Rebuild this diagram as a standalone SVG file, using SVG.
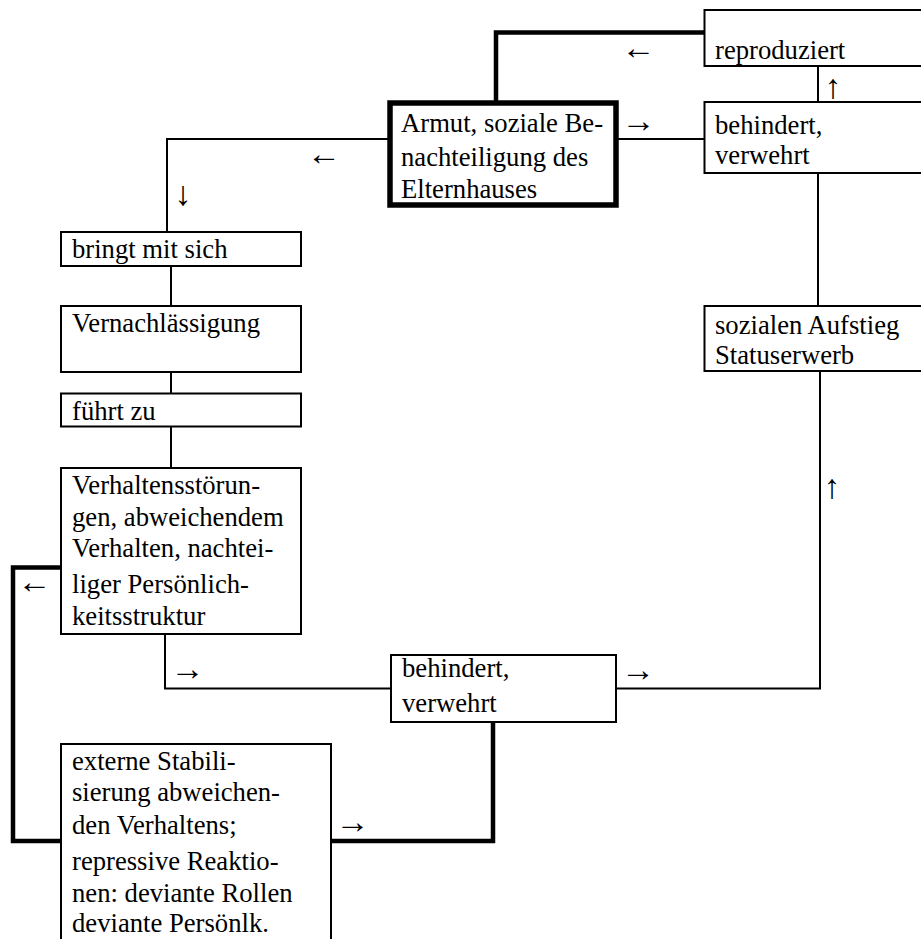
<svg xmlns="http://www.w3.org/2000/svg" width="921" height="939" viewBox="0 0 921 939">
<style>
.b{fill:#fff;stroke:#000;stroke-width:2}
.bt{fill:#fff;stroke:#000;stroke-width:5.5}
.c{fill:none;stroke:#000;stroke-width:2}
.ct{fill:none;stroke:#000;stroke-width:4.5}
text{font-family:"Liberation Serif","Times New Roman",serif;font-size:26.67px;fill:#000}
.a{text-anchor:middle;font-size:34px}
</style>
<rect width="921" height="939" fill="#fff"/>
<g id="connectors">
<path class="ct" d="M496,103 V32.5 H704.5"/>
<path class="c" d="M616,139 H704.5"/>
<path class="c" d="M390,139 H167 V232"/>
<path class="c" d="M818,66 V102"/>
<path class="c" d="M818,173 V306"/>
<path class="c" d="M171,266 V306"/>
<path class="c" d="M171,372 V393.5"/>
<path class="c" d="M171,426.5 V468"/>
<path class="c" d="M165,634 V688.5 H391"/>
<path class="c" d="M616,688.5 H820 V371"/>
<path class="ct" d="M61,567.5 H13 V841 H61"/>
<path class="ct" d="M331,841 H493 V722"/>
<text class="a" x="638.5" y="58.5">←</text>
<text class="a" x="638.5" y="131.5">→</text>
<text class="a" x="833" y="98">↑</text>
<text class="a" x="324" y="164.5">←</text>
<text class="a" x="183" y="205">↓</text>
<text class="a" x="34.5" y="592.5">←</text>
<text class="a" x="187.5" y="679.5">→</text>
<text class="a" x="638" y="680.5">→</text>
<text class="a" x="832" y="498">↑</text>
<text class="a" x="352.5" y="832.5">→</text>
</g>
<g id="reproduziert">
<rect class="b" x="704.5" y="10" width="230" height="56"/>
<text x="715" y="59">reproduziert</text>
</g>
<g id="behindert1">
<rect class="b" x="704.5" y="102" width="230" height="71"/>
<text x="715" y="133.5">behindert,</text>
<text x="715" y="163.5">verwehrt</text>
</g>
<g id="sozialen">
<rect class="b" x="704.5" y="306" width="230" height="65"/>
<text x="715" y="333.5">sozialen Aufstieg</text>
<text x="715" y="363.5">Statuserwerb</text>
</g>
<g id="armut">
<rect class="bt" x="390" y="103" width="226" height="102"/>
<text x="401" y="132">Armut, soziale Be-</text>
<text x="401" y="166">nachteiligung des</text>
<text x="401" y="198">Elternhauses</text>
</g>
<g id="bringt">
<rect class="b" x="61" y="232" width="240" height="34"/>
<text x="72" y="258">bringt mit sich</text>
</g>
<g id="vernachlaessigung">
<rect class="b" x="61" y="306" width="240" height="66"/>
<text x="72" y="332">Vernachlässigung</text>
</g>
<g id="fuehrt">
<rect class="b" x="61" y="393.5" width="240" height="33"/>
<text x="72" y="420">führt zu</text>
</g>
<g id="verhaltens">
<rect class="b" x="61" y="468" width="240" height="166"/>
<text x="72" y="494">Verhaltensstörun-</text>
<text x="72" y="526">gen, abweichendem</text>
<text x="72" y="557">Verhalten, nachtei-</text>
<text x="72" y="593">liger Persönlich-</text>
<text x="72" y="625">keitsstruktur</text>
</g>
<g id="behindert2">
<rect class="b" x="391" y="655" width="225" height="67"/>
<text x="402" y="677">behindert,</text>
<text x="402" y="712">verwehrt</text>
</g>
<g id="externe">
<rect class="b" x="61" y="744" width="270" height="220"/>
<text x="72" y="769.5">externe Stabili-</text>
<text x="72" y="801">sierung abweichen-</text>
<text x="72" y="833.5">den Verhaltens;</text>
<text x="72" y="870">repressive Reaktio-</text>
<text x="72" y="901.5">nen: deviante Rollen</text>
<text x="72" y="932">deviante Persönlk.</text>
</g>
</svg>
